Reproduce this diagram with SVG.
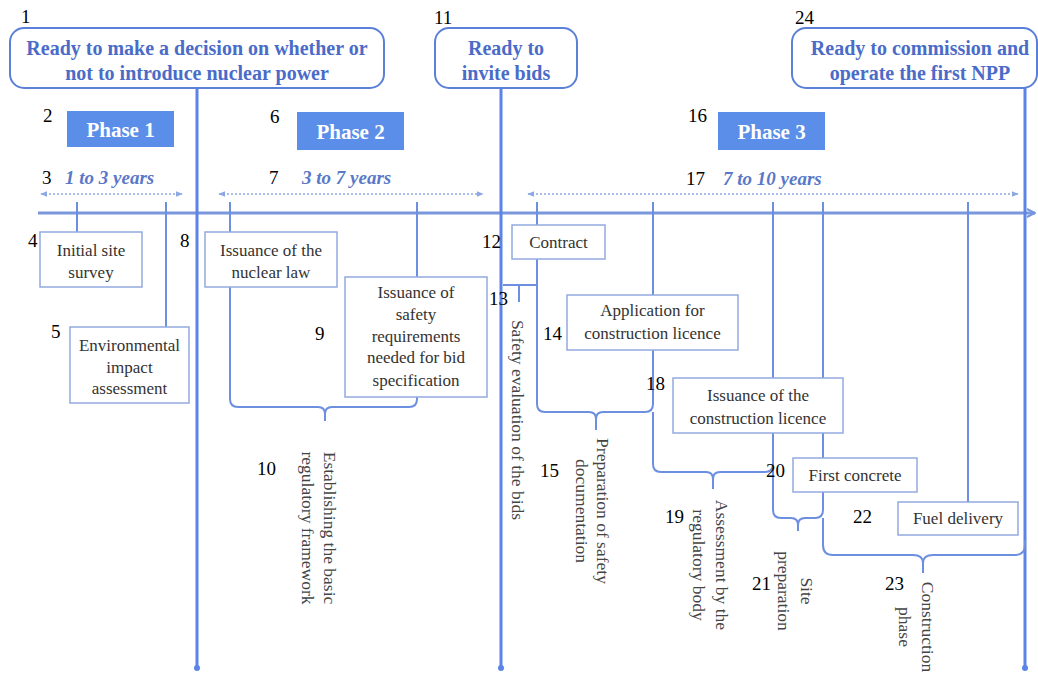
<svg xmlns="http://www.w3.org/2000/svg" width="1038" height="673" viewBox="0 0 1038 673" font-family="'Liberation Serif','Times New Roman',serif">
<defs>
<style>
text{font-family:'Liberation Serif','Times New Roman',serif}
.num{font-size:19px;fill:#000}
.ms{font-size:20px;font-weight:bold;fill:#4a6cc8;text-anchor:middle}
.msbox{fill:#fff;stroke:#5b80d8;stroke-width:2}
.ph{fill:#5b8ee8}
.phtxt{font-size:21px;font-weight:bold;fill:#fff;text-anchor:middle}
.dur{font-size:19px;font-weight:bold;font-style:italic;fill:#5a78c8}
.box{fill:#fff;stroke:#94aadf;stroke-width:1.5}
.bt{font-size:17px;fill:#333;text-anchor:middle}
.rt{font-size:17.5px;fill:#444;text-anchor:middle}
.big{stroke:#5b84e6;stroke-width:3;fill:none}
.tick{stroke:#6d8fe0;stroke-width:2;fill:none}
.dot{stroke:#8ca8e4;stroke-width:1.5;stroke-dasharray:2 2;fill:none}
</style>
<marker id="dA" viewBox="0 0 10 10" refX="9" refY="5" markerWidth="7" markerHeight="7" orient="auto-start-reverse" markerUnits="userSpaceOnUse">
<path d="M0,1 L10,5 L0,9 Z" fill="#8ca8e4"/>
</marker>
<marker id="mA" viewBox="0 0 10 10" refX="9" refY="5" markerWidth="10" markerHeight="10" orient="auto" markerUnits="userSpaceOnUse">
<path d="M1,1 L9,5 L1,9" fill="none" stroke="#7596dc" stroke-width="2"/>
</marker>
</defs>
<rect width="1038" height="673" fill="#fff"/>

<g id="connectors">
<line x1="38" y1="213" x2="1035" y2="213" stroke="#7a98dc" stroke-width="3" marker-end="url(#mA)"/>
<line class="dot" x1="41" y1="194" x2="182" y2="194" marker-start="url(#dA)" marker-end="url(#dA)"/>
<line class="dot" x1="219" y1="194" x2="483" y2="194" marker-start="url(#dA)" marker-end="url(#dA)"/>
<line class="dot" x1="528" y1="194" x2="1018" y2="194" marker-start="url(#dA)" marker-end="url(#dA)"/>
<path class="big" d="M197,87 V668"/>
<path class="big" d="M501,87 V668"/>
<path class="big" d="M1025,87 V668"/>
<circle cx="197" cy="668" r="3" fill="#5b84e6"/>
<circle cx="501" cy="668" r="3" fill="#5b84e6"/>
<circle cx="1025" cy="668" r="3" fill="#5b84e6"/>
<path class="tick" d="M77,202 V232"/>
<path class="tick" d="M166,202 V327"/>
<path class="tick" d="M230,202 V232"/>
<path class="tick" d="M417,202 V277"/>
<path class="tick" d="M537,202 V225"/>
<path class="tick" d="M653,202 V295"/>
<path class="tick" d="M773,202 V378" stroke-width="3"/>
<path class="tick" d="M823,202 V378"/>
<path class="tick" d="M968,202 V502"/>
<path class="tick" d="M823,433 V458"/>
<path class="tick" d="M230,287 V399 Q230,407 238,407 H318 Q325,407 325,414 V421 M417,397 V399 Q417,407 409,407 H332 Q325,407 325,414"/>
<path class="tick" d="M537,259 V285 H503 M519,285 V302"/>
<path class="tick" d="M537,285 V404 Q537,412 545,412 H589 Q596,412 596,419 V430 M653,350 V404 Q653,412 645,412 H603 Q596,412 596,419"/>
<path class="tick" d="M653,412 V464 Q653,472 661,472 H706 Q713,472 713,479 V489 M773,433 V464 Q773,472 765,472 H720 Q713,472 713,479"/>
<path class="tick" d="M773,433 V510 Q773,518 781,518 H791 Q798,518 798,525 V531 M823,492 V510 Q823,518 815,518 H805 Q798,518 798,525" stroke-width="2.5"/>
<path class="tick" d="M823,518 V545 Q823,555 833,555 H913 Q923,555 923,563 V573 M1025,540 V545 Q1025,555 1015,555 H933 Q923,555 923,563"/>
</g>

<g id="n1"><rect class="msbox" x="10" y="28" width="374" height="60" rx="14"/>
<text class="ms" x="197" y="55">Ready to make a decision on whether or</text>
<text class="ms" x="197" y="80">not to introduce nuclear power</text>
<text class="num" x="21" y="23">1</text></g>
<g id="n11"><rect class="msbox" x="435" y="28" width="142" height="60" rx="14"/>
<text class="ms" x="506" y="55">Ready to</text>
<text class="ms" x="506" y="80">invite bids</text>
<text class="num" x="434" y="24">11</text></g>
<g id="n24"><rect class="msbox" x="792" y="28" width="245" height="60" rx="14"/>
<text class="ms" x="920" y="55">Ready to commission and</text>
<text class="ms" x="920" y="80">operate the first NPP</text>
<text class="num" x="795" y="24">24</text></g>

<g id="n2"><rect class="ph" x="67" y="111" width="107" height="36"/><text class="phtxt" x="120.5" y="137">Phase 1</text><text class="num" x="43" y="122">2</text></g>
<g id="n6"><rect class="ph" x="297" y="112" width="107" height="38"/><text class="phtxt" x="350.5" y="139">Phase 2</text><text class="num" x="270" y="123">6</text></g>
<g id="n16"><rect class="ph" x="718" y="112" width="107" height="38"/><text class="phtxt" x="771.5" y="139">Phase 3</text><text class="num" x="688" y="122">16</text></g>

<g id="n3"><text class="num" x="42" y="184">3</text><text class="dur" x="65" y="184">1 to 3 years</text></g>
<g id="n7"><text class="num" x="269" y="184">7</text><text class="dur" x="302" y="184">3 to 7 years</text></g>
<g id="n17"><text class="num" x="686" y="185">17</text><text class="dur" x="723" y="185">7 to 10 years</text></g>

<g id="n4"><rect class="box" x="40" y="232" width="102" height="55"/><text class="bt" x="91" y="256">Initial site</text><text class="bt" x="91" y="278">survey</text><text class="num" x="28" y="247">4</text></g>
<g id="n5"><rect class="box" x="70" y="327" width="119" height="76"/><text class="bt" x="129.5" y="351">Environmental</text><text class="bt" x="129.5" y="373">impact</text><text class="bt" x="129.5" y="394">assessment</text><text class="num" x="51" y="338">5</text></g>
<g id="n8"><rect class="box" x="205" y="232" width="132" height="55"/><text class="bt" x="271" y="256">Issuance of the</text><text class="bt" x="271" y="278">nuclear law</text><text class="num" x="180" y="247">8</text></g>
<g id="n9"><rect class="box" x="345" y="277" width="142" height="120"/><text class="bt" x="416" y="298">Issuance of</text><text class="bt" x="416" y="320">safety</text><text class="bt" x="416" y="342">requirements</text><text class="bt" x="416" y="363">needed for bid</text><text class="bt" x="416" y="386">specification</text><text class="num" x="315" y="340">9</text></g>
<g id="n10"><text class="num" x="257" y="475">10</text><text class="rt" transform="translate(324,528) rotate(90)">Establishing the basic</text><text class="rt" transform="translate(302,528) rotate(90)">regulatory framework</text></g>
<g id="n12"><rect class="box" x="512" y="225" width="93" height="34"/><text class="bt" x="558.5" y="248">Contract</text><text class="num" x="482" y="248">12</text></g>
<g id="n13"><text class="num" x="489" y="305">13</text><text class="rt" transform="translate(512,420) rotate(90)">Safety evaluation of the bids</text></g>
<g id="n14"><rect class="box" x="567" y="295" width="171" height="55"/><text class="bt" x="652.5" y="316">Application for</text><text class="bt" x="652.5" y="339">construction licence</text><text class="num" x="543" y="340">14</text></g>
<g id="n15"><text class="num" x="540" y="477">15</text><text class="rt" transform="translate(597,511) rotate(90)">Preparation of safety</text><text class="rt" transform="translate(576,511) rotate(90)">documentation</text></g>
<g id="n18"><rect class="box" x="673" y="378" width="170" height="55"/><text class="bt" x="758" y="401">Issuance of the</text><text class="bt" x="758" y="424">construction licence</text><text class="num" x="646" y="390">18</text></g>
<g id="n19"><text class="num" x="665" y="523">19</text><text class="rt" transform="translate(716,565) rotate(90)">Assessment  by the</text><text class="rt" transform="translate(693,565) rotate(90)">regulatory body</text></g>
<g id="n20"><rect class="box" x="793" y="458" width="124" height="34"/><text class="bt" x="855" y="481">First concrete</text><text class="num" x="766" y="477">20</text></g>
<g id="n21"><text class="num" x="752" y="590">21</text><text class="rt" transform="translate(801,591) rotate(90)">Site</text><text class="rt" transform="translate(778,591) rotate(90)">preparation</text></g>
<g id="n22"><rect class="box" x="898" y="502" width="120" height="33"/><text class="bt" x="958" y="524">Fuel delivery</text><text class="num" x="853" y="523">22</text></g>
<g id="n23"><text class="num" x="885" y="590">23</text><text class="rt" transform="translate(922,627) rotate(90)">Construction</text><text class="rt" transform="translate(899,627) rotate(90)">phase</text></g>
</svg>
